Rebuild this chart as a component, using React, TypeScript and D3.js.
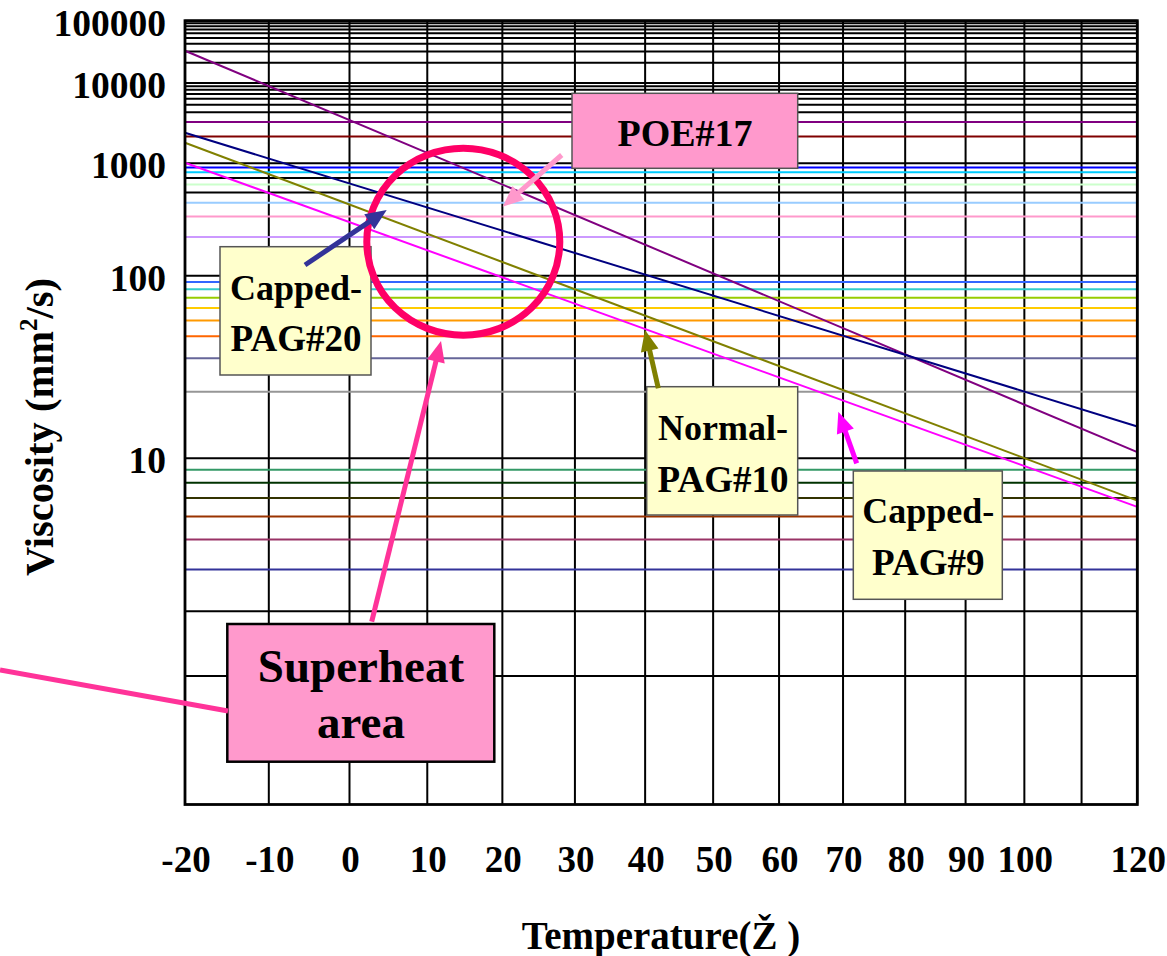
import React from "react";
import * as d3 from "d3";

// Temperature grid (°C) and which of them carry a label
const TEMP_GRID = [-20, -10, 0, 10, 20, 30, 40, 50, 60, 70, 80, 90, 100, 110, 120];
const TEMP_LABELS = [-20, -10, 0, 10, 20, 30, 40, 50, 60, 70, 80, 90, 100, 120];

// Viscosity labels (mm²/s)
const VISC_LABELS = [100000, 10000, 1000, 100, 10];

// Black horizontal reference lines (mm²/s)
const BLACK_LINES = [
  100000, 90000, 80000, 70000, 60000, 50000, 40000, 30000, 20000, 10000,
  9000, 8000, 7000, 6000, 5000, 4000, 1000, 700, 500, 100, 10, 3, 2,
];

// Coloured horizontal reference lines (mm²/s)
const COLOR_LINES = [3000, 2000, 900, 800, 600, 400, 300, 200, 90, 80, 70, 60, 50, 40, 30, 20, 9, 8, 7, 6, 5, 4];
const COLOR_LINE_PALETTE = [
  "#800080", "#800000", "#0000FF", "#00CCFF", "#CCFFCC", "#99CCFF", "#FF99CC", "#CC99FF",
  "#3366FF", "#33CCCC", "#99CC00", "#FFCC00", "#FF9900", "#FF6600", "#666699", "#969696",
  "#339966", "#003300", "#333300", "#993300", "#993366", "#333399",
];

// Oil viscosity lines: viscosity at the ends of the temperature range
const SERIES_TEMPS = [-20, 120];
const POE_17 = [30900, 10.6];
const CAPPED_PAG_20 = [2220, 13.7];
const NORMAL_PAG_10 = [1690, 6.85];
const CAPPED_PAG_9 = [1010, 6.5];
const SERIES_NAMES = ["POE#17", "Capped-PAG#20", "Normal-PAG#10", "Capped-PAG#9"];
const SERIES_VALUES = [POE_17, CAPPED_PAG_20, NORMAL_PAG_10, CAPPED_PAG_9];
const SERIES_COLORS = ["#800080", "#000080", "#808000", "#FF00FF"];

const W = 1167;
const H = 956;
const LEFT = 185;
const RIGHT = 1137.3;
const TOP = 20.7;
const BOTTOM = 804.5;
const FONT = "'Times New Roman', 'Liberation Serif', serif";

// Walther-type viscosity transform (ASTM chart paper)
const walther = (v: number) => Math.log10(Math.log10(v + 1));

const xLog = d3.scaleLog().domain([253.15, 393.15]).range([LEFT, RIGHT]);
const xT = (t: number) => xLog(t + 273.15);
const yW = d3.scaleLinear().domain([walther(1), walther(100000)]).range([BOTTOM, TOP]);
const yV = (v: number) => yW(walther(v));

const lineGen = d3
  .line<[number, number]>()
  .x((d) => xT(d[0]))
  .y((d) => yV(d[1]));

function Arrow({ x1, y1, x2, y2, color, w = 5, hl = 21, hw = 18 }: any) {
  const dx = x2 - x1;
  const dy = y2 - y1;
  const len = Math.hypot(dx, dy);
  const ux = dx / len;
  const uy = dy / len;
  const bx = x2 - ux * hl;
  const by = y2 - uy * hl;
  const px = -uy;
  const py = ux;
  const head = `M${x2},${y2}L${bx + (px * hw) / 2},${by + (py * hw) / 2}L${bx - (px * hw) / 2},${by - (py * hw) / 2}Z`;
  return (
    <g>
      <line x1={x1} y1={y1} x2={bx + ux * 2} y2={by + uy * 2} stroke={color} strokeWidth={w} />
      <path d={head} fill={color} />
    </g>
  );
}

function Box({ x, y, w, h, fill, stroke = "#555", sw = 1.5 }: any) {
  return <rect x={x} y={y} width={w} height={h} fill={fill} stroke={stroke} strokeWidth={sw} />;
}

export default function App() {
  return (
    <svg
      width={W}
      height={H}
      viewBox={`0 0 ${W} ${H}`}
      style={{ position: "absolute", left: 0, top: 0, background: "#fff" }}
      fontFamily={FONT}
      fontWeight="bold"
    >
      <rect x={0} y={0} width={W} height={H} fill="#fff" />

      {/* vertical temperature grid */}
      {TEMP_GRID.map((t) => (
        <line key={`v${t}`} x1={xT(t)} x2={xT(t)} y1={TOP} y2={BOTTOM} stroke="#000" strokeWidth={2} />
      ))}

      {/* horizontal viscosity grid */}
      {BLACK_LINES.map((v) => (
        <line key={`b${v}`} x1={LEFT} x2={RIGHT} y1={yV(v)} y2={yV(v)} stroke="#000" strokeWidth={2} />
      ))}
      {COLOR_LINES.map((v, i) => (
        <line
          key={`c${v}`}
          x1={LEFT}
          x2={RIGHT}
          y1={yV(v)}
          y2={yV(v)}
          stroke={COLOR_LINE_PALETTE[i]}
          strokeWidth={2}
        />
      ))}

      {/* oil viscosity lines */}
      {SERIES_VALUES.map((vals, i) => (
        <path
          key={SERIES_NAMES[i]}
          d={lineGen(SERIES_TEMPS.map((t, j) => [t, vals[j]] as [number, number])) || ""}
          fill="none"
          stroke={SERIES_COLORS[i]}
          strokeWidth={2}
        />
      ))}

      {/* plot frame */}
      <rect x={LEFT} y={TOP} width={RIGHT - LEFT} height={BOTTOM - TOP} fill="none" stroke="#000" strokeWidth={2.8} />

      {/* callout boxes */}
      <Box x={572} y={93.3} w={225.7} h={75} fill="#FF99CC" />
      <Box x={220} y={246.7} w={151} h={128.3} fill="#FFFFCC" />
      <Box x={646.7} y={386.7} w={151} h={128.3} fill="#FFFFCC" />
      <Box x={853.3} y={471} w={149} h={128.3} fill="#FFFFCC" />
      <Box x={227.3} y={624} w={267} h={137.7} fill="#FF99CC" stroke="#000" sw={2.5} />

      {/* superheat region */}
      <ellipse cx={463.3} cy={241.7} rx={96.5} ry={93.5} fill="none" stroke="#FF0066" strokeWidth={7} />

      {/* callout arrows */}
      <Arrow x1={561.7} y1={155} x2={502.7} y2={206.7} color="#FF99CC" />
      <Arrow x1={305} y1={265} x2={386.7} y2={210} color="#333399" />
      <Arrow x1={371.7} y1={621.7} x2={441} y2={341} color="#FF3399" />
      <line x1={0} y1={670} x2={228} y2={711} stroke="#FF3399" strokeWidth={5} />
      <Arrow x1={658.3} y1={388.3} x2={645} y2={330} color="#808000" />
      <Arrow x1={856.7} y1={463.3} x2={838.3} y2={411.7} color="#FF00FF" />

      {/* callout texts */}
      <text x={685} y={145.5} fontSize={38} textAnchor="middle" fill="#000">
        POE#17
      </text>
      <text x={296} y={300} fontSize={36} textAnchor="middle" fill="#000">
        Capped-
      </text>
      <text x={296} y={351} fontSize={37} textAnchor="middle" fill="#000">
        PAG#20
      </text>
      <text x={723} y={440} fontSize={36} textAnchor="middle" fill="#000">
        Normal-
      </text>
      <text x={723} y={491.5} fontSize={37} textAnchor="middle" fill="#000">
        PAG#10
      </text>
      <text x={928.3} y={523.3} fontSize={36} textAnchor="middle" fill="#000">
        Capped-
      </text>
      <text x={928.3} y={575} fontSize={37} textAnchor="middle" fill="#000">
        PAG#9
      </text>
      <text x={361} y={681.7} fontSize={47} textAnchor="middle" fill="#000">
        Superheat
      </text>
      <text x={361} y={738.3} fontSize={47} textAnchor="middle" fill="#000">
        area
      </text>

      {/* axis labels */}
      {VISC_LABELS.map((v) => (
        <text key={`yl${v}`} x={166} y={yV(v) + 15} fontSize={37.5} textAnchor="end" fill="#000">
          {v}
        </text>
      ))}
      {TEMP_LABELS.map((t) => (
        <text key={`xl${t}`} x={xT(t) + 1} y={872} fontSize={37} textAnchor="middle" fill="#000">
          {t}
        </text>
      ))}

      <text x={661} y={949} fontSize={39} textAnchor="middle" fill="#000">
        Temperature(Ž )
      </text>
      <text transform="translate(53,427) rotate(-90)" fontSize={40.5} textAnchor="middle" fill="#000">
        Viscosity (mm
        <tspan fontSize={25} dy={-16}>
          2
        </tspan>
        <tspan dy={16}>/s)</tspan>
      </text>
    </svg>
  );
}
